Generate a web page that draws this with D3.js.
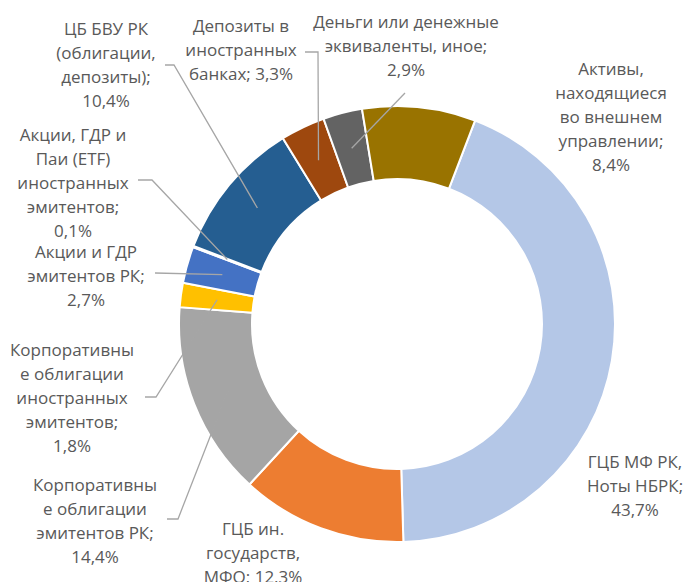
<!DOCTYPE html>
<html lang="ru">
<head>
<meta charset="UTF-8">
<script src="https://d3js.org/d3.v7.min.js"></script>
<style>
  body { margin: 0; background: #fff; }
  .label { font-family: "Open Sans", sans-serif; font-size: 17px; fill: #595959; }
</style>
</head>
<body>
<div id="chart"></div>
<script>
// Data
const categories = [
  "ГЦБ МФ РК,\nНоты НБРК",
  "ГЦБ ин.\nгосударств,\nМФО",
  "Корпоративны\nе облигации\nэмитентов РК",
  "Корпоративны\nе облигации\nиностранных\nэмитентов",
  "Акции и ГДР\nэмитентов РК",
  "Акции, ГДР и\nПаи (ETF)\nиностранных\nэмитентов",
  "ЦБ БВУ РК\n(облигации,\nдепозиты)",
  "Депозиты в\nиностранных\nбанках",
  "Деньги или денежные\nэквиваленты, иное",
  "Активы,\nнаходящиеся\nво внешнем\nуправлении"
];
const values = [43.7, 12.3, 14.4, 1.8, 2.7, 0.1, 10.4, 3.3, 2.9, 8.4];

const colors = ["#b4c7e7", "#ed7d31", "#a5a5a5", "#ffc000", "#4472c4",
  "#70ad47", "#255e91", "#9e480e", "#636363", "#997300"];

// Label layout: centre x, first baseline y, separator before value, leader start [x0, y0, x1]
const labelLayout = [
  { x: 635, y: 468, sep: "\n", leader: null },
  { x: 253, y: 535, sep: " ", leader: null },
  { x: 95, y: 491, sep: "\n", leader: [167, 519, 178] },
  { x: 72, y: 356, sep: "\n", leader: [145, 397, 156] },
  { x: 86, y: 258, sep: "\n", leader: [155, 273, 155] },
  { x: 73, y: 141, sep: "\n", leader: [138, 180, 152] },
  { x: 106, y: 35, sep: "\n", leader: [165, 65, 174] },
  { x: 241, y: 32, sep: " ", leader: [305, 52, 318] },
  { x: 406, y: 28, sep: "\n", leader: [405, 93, 405] },
  { x: 611, y: 75, sep: "\n", leader: null }
];

// Dimensions
const width = 688;
const height = 582;
const cx = 397, cy = 324;
const outerR = 218, innerR = 145;
const lineH = 24;

const svg = d3.select("#chart")
  .append("svg")
  .attr("width", width)
  .attr("height", height);

const pie = d3.pie()
  .sort(null)
  .value(d => d)
  .startAngle(21 * Math.PI / 180)
  .endAngle(21 * Math.PI / 180 + 2 * Math.PI);

const arc = d3.arc().innerRadius(innerR).outerRadius(outerR);
const arcs = pie(values);

const g = svg.append("g").attr("transform", `translate(${cx},${cy})`);

g.selectAll("path")
  .data(arcs)
  .join("path")
  .attr("d", arc)
  .attr("fill", (d, i) => colors[i])
  .attr("stroke", "#fff")
  .attr("stroke-width", 2);

// Leader lines to slice centroids
const fmt = v => d3.format(".1f")(v).replace(".", ",") + "%";

arcs.forEach((d, i) => {
  const L = labelLayout[i];
  if (!L.leader) return;
  const [ex, ey] = arc.centroid(d);
  const pts = [[L.leader[0], L.leader[1]], [L.leader[2], L.leader[1]], [cx + ex, cy + ey]];
  svg.append("path")
    .attr("d", d3.line()(pts))
    .attr("fill", "none")
    .attr("stroke", "#a6a6a6")
    .attr("stroke-width", 1.3);
});

// Labels
categories.forEach((name, i) => {
  const L = labelLayout[i];
  const lines = (name + ";" + L.sep + fmt(values[i])).split("\n");
  const t = svg.append("text")
    .attr("class", "label")
    .attr("text-anchor", "middle");
  lines.forEach((s, k) => {
    t.append("tspan").attr("x", L.x).attr("y", L.y + k * lineH).text(s);
  });
});
</script>
</body>
</html>
